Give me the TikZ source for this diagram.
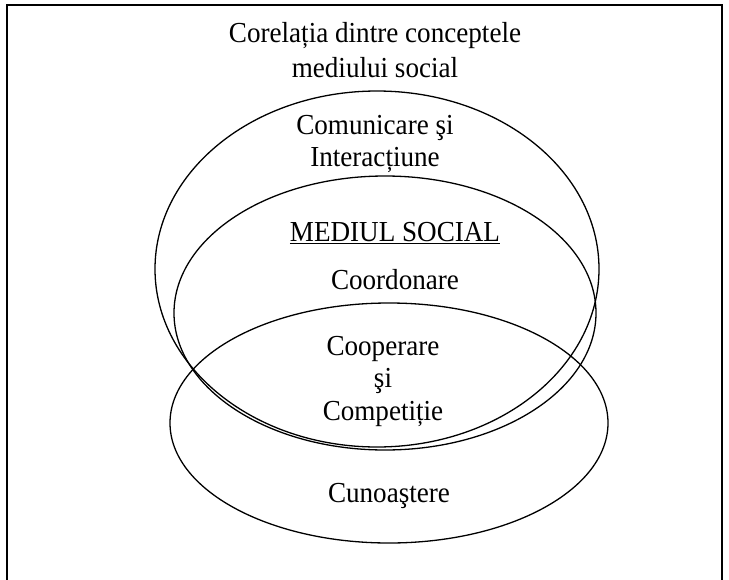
\documentclass[tikz,border=0pt]{standalone}
\usepackage{fontspec}
\setmainfont{Liberation Serif}[FakeStretch=0.935]
\begin{document}
\begin{tikzpicture}[x=1pt,y=-1pt,
  lbl/.style={inner sep=0pt,align=center,font=\fontsize{29}{32.5}\selectfont},
  ell/.style={draw,line width=1.3pt}]
\useasboundingbox (0,0) rectangle (729,579);
\begin{scope}
\clip (0,0) rectangle (729,579);
\draw[line width=1.3pt] (7,5) rectangle (722,620);
\end{scope}
\draw[ell] (377,269) ellipse [x radius=222pt, y radius=178pt];
\draw[ell] (385,313) ellipse [x radius=211pt, y radius=137pt];
\draw[ell] (389,423) ellipse [x radius=219pt, y radius=120pt];
\node[lbl,font=\fontsize{29}{35}\selectfont] (title) at (375,50) {Corelația dintre conceptele\\mediului social};
\node[lbl] (com) at (375,144) {Comunicare şi\\Interacțiune};
\node[lbl] (med) at (395,233) {\underline{MEDIUL SOCIAL}};
\node[lbl] (coord) at (395,280) {Coordonare};
\node[lbl] (coop) at (383,381) {Cooperare\\şi\\Competiție};
\node[lbl] (cun) at (389,496) {Cunoaştere};
\end{tikzpicture}
\end{document}
